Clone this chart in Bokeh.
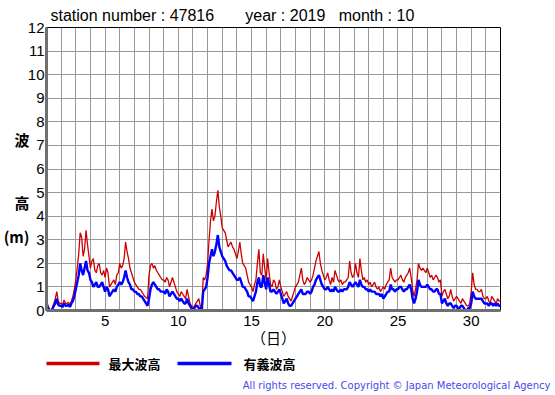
import numpy as np
from bokeh.plotting import figure
from bokeh.layouts import column
from bokeh.models import (FixedTicker, SingleIntervalTicker, ColumnDataSource, Title,
                          LinearAxis, Label, Range1d)
from bokeh.embed import file_html
from bokeh.resources import INLINE

# ---- data (wave height, m) : 10 readings per day, day 1.0 .. 32.0 ----
max_wave = [
    0.4,0.2,0.05,0.0,0.1,0.3,0.5,0.8,0.4,0.3,        # day 1
    0.3,0.25,0.45,0.3,0.3,0.35,0.25,0.4,0.6,0.9,     # day 2
    1.3,1.8,2.4,3.3,3.1,2.3,2.6,3.4,2.8,2.3,         # day 3
    1.8,2.1,2.2,1.7,1.6,1.9,2.0,1.6,1.5,1.7,         # day 4
    1.4,1.8,1.6,1.0,1.1,1.2,1.3,1.1,1.5,1.6,         # day 5
    2.0,1.8,1.9,2.2,2.9,2.5,2.2,1.8,1.6,1.4,         # day 6
    1.2,1.1,1.0,0.9,0.9,0.8,0.7,0.6,0.55,0.5,        # day 7
    1.5,1.9,2.0,1.8,1.9,1.7,1.6,1.5,1.4,1.3,         # day 8
    1.3,1.2,1.4,1.3,1.0,1.2,1.4,1.2,1.0,0.8,         # day 9
    0.7,0.6,0.8,0.7,0.6,0.5,0.9,0.6,0.3,0.2,         # day 10
    0.1,0.2,0.3,0.4,0.5,0.2,0.05,1.4,1.3,1.5,        # day 11
    2.0,3.0,3.8,4.3,3.8,4.0,4.6,5.1,4.4,4.0,         # day 12
    3.5,3.4,3.3,3.0,2.7,2.8,2.9,2.7,2.6,2.4,         # day 13
    2.2,2.5,2.9,2.4,2.0,1.9,1.8,1.5,1.2,1.1,         # day 14
    1.0,0.8,1.1,1.3,2.0,2.6,1.6,1.5,2.4,1.8,         # day 15
    1.3,2.2,1.6,1.1,1.0,1.3,1.2,0.9,1.0,1.3,         # day 16
    1.0,0.8,0.6,0.7,0.8,0.6,0.5,0.4,0.6,0.8,         # day 17
    1.0,1.1,1.2,1.5,1.8,1.3,1.1,1.2,1.4,1.3,         # day 18
    1.2,1.3,1.5,1.8,2.1,2.3,2.5,2.0,1.7,1.5,         # day 19
    1.3,1.4,1.6,1.3,1.1,1.4,1.2,1.7,1.5,1.3,         # day 20
    1.2,1.3,1.1,1.2,1.2,1.3,1.4,2.1,1.6,1.4,         # day 21
    1.5,2.0,1.6,1.4,2.2,1.7,1.3,1.4,1.2,1.3,         # day 22
    1.1,1.2,1.0,1.1,1.2,1.0,0.9,1.0,0.8,0.9,         # day 23
    1.0,0.9,1.1,1.2,1.3,1.8,1.4,1.3,1.2,1.3,         # day 24
    1.3,1.4,1.5,1.3,1.2,1.4,1.5,1.6,1.8,1.4,         # day 25
    0.9,0.6,0.9,1.3,2.0,1.8,1.7,1.8,1.7,1.6,         # day 26
    1.8,1.6,1.4,1.5,1.3,1.4,1.5,1.4,1.2,1.3,         # day 27
    0.6,0.8,0.9,0.7,0.5,0.6,0.9,0.6,0.4,0.5,         # day 28
    0.6,0.5,0.4,0.3,0.5,0.4,0.3,0.2,0.2,0.3,         # day 29
    0.8,1.6,1.1,0.9,0.9,0.8,0.8,0.9,0.6,0.5,         # day 30
    0.5,0.6,0.4,0.3,0.6,0.5,0.4,0.3,0.5,0.4,         # day 31
    0.4,
]
sig_wave = [
    0.3,0.1,0.0,0.0,0.05,0.2,0.3,0.5,0.25,0.2,
    0.2,0.15,0.3,0.2,0.2,0.25,0.15,0.3,0.4,0.6,
    0.9,1.2,1.5,2.0,1.7,1.5,1.8,2.1,1.7,1.6,
    1.3,1.2,1.0,1.1,1.2,1.0,1.0,1.1,1.2,1.0,
    0.8,1.0,0.9,0.6,0.7,0.8,0.9,0.8,1.0,1.1,
    1.2,1.1,1.2,1.4,1.7,1.4,1.2,1.1,0.9,0.9,
    0.8,0.8,0.7,0.7,0.6,0.6,0.5,0.4,0.3,0.2,
    0.5,0.9,1.1,1.2,1.1,1.0,0.9,0.9,0.8,0.8,
    0.8,0.7,0.9,0.8,0.6,0.7,0.8,0.7,0.6,0.5,
    0.5,0.4,0.5,0.4,0.3,0.3,0.5,0.3,0.2,0.1,
    0.0,0.1,0.2,0.2,0.1,0.1,0.0,0.8,0.9,1.0,
    1.4,2.0,2.3,2.6,2.3,2.5,2.8,3.2,2.7,2.5,
    2.3,2.2,2.1,1.9,1.8,1.7,1.7,1.6,1.5,1.4,
    1.3,1.3,1.4,1.2,1.0,1.0,0.9,0.8,0.6,0.6,
    0.5,0.4,0.6,0.8,1.2,1.4,1.0,1.0,1.5,1.2,
    0.9,1.4,1.1,0.8,0.8,0.9,0.8,0.7,0.8,0.9,
    0.7,0.5,0.3,0.4,0.5,0.3,0.2,0.2,0.3,0.4,
    0.5,0.6,0.7,0.8,0.9,0.7,0.7,0.7,0.8,0.8,
    0.7,0.8,1.0,1.1,1.3,1.4,1.5,1.3,1.1,1.0,
    0.9,0.9,1.0,0.9,0.8,0.9,0.8,1.0,0.9,0.8,
    0.8,0.9,0.8,0.9,0.9,0.9,1.0,1.2,1.1,1.0,
    1.1,1.2,1.1,1.0,1.3,1.1,1.0,1.0,0.9,0.9,
    0.8,0.9,0.8,0.8,0.8,0.7,0.7,0.7,0.6,0.7,
    0.5,0.6,0.7,0.8,0.8,1.1,0.9,0.9,0.8,0.9,
    0.9,1.0,1.0,0.9,0.8,0.9,0.9,1.0,1.1,0.9,
    0.5,0.3,0.5,0.8,1.3,1.1,1.0,1.0,1.0,1.0,
    1.1,1.0,0.9,0.9,0.8,0.8,0.9,0.9,0.7,0.7,
    0.3,0.4,0.5,0.3,0.2,0.3,0.3,0.2,0.1,0.2,
    0.2,0.1,0.1,0.2,0.2,0.1,0.0,0.0,0.1,0.1,
    0.3,0.8,0.6,0.5,0.5,0.5,0.5,0.5,0.4,0.3,
    0.3,0.3,0.2,0.3,0.3,0.2,0.3,0.2,0.3,0.2,
    0.2,
]
days = 1 + np.arange(len(max_wave)) / 10.0

x_tick_labels = [5, 10, 15, 20, 25, 30]
y_ticks = list(range(0, 13))
NB = "\u00a0"
header_text = "station number : 47816" + NB * 7 + "year : 2019" + NB * 3 + "month : 10"
legend_labels = ["最大波高", "有義波高"]
# vertical y label: characters and the heights (m) at which they stand
y_label_chars = ["波", "高", "(m)"]
y_label_pos = [7.24, 4.58, 3.13]
x_label = "（日）"
copyright_text = "All rights reserved. Copyright © Japan Meteorological Agency"

src = ColumnDataSource(dict(day=days, hmax=max_wave, hsig=sig_wave))

p = figure(frame_width=454, frame_height=283, x_range=(1, 32), y_range=(0, 12),
           output_backend="svg", toolbar_location=None, title=None,
           min_border_left=46, min_border_right=55, min_border_top=27, min_border_bottom=44)
p.background_fill_color = "white"
p.border_fill_color = "white"
p.outline_line_color = "black"
p.outline_line_width = 1

# grid
p.xgrid.ticker = SingleIntervalTicker(interval=1)
p.ygrid.ticker = SingleIntervalTicker(interval=1)
for g in (p.xgrid, p.ygrid):
    g.grid_line_color = "#999999"
    g.grid_line_width = 1

# axes
p.xaxis.ticker = FixedTicker(ticks=x_tick_labels)
p.yaxis.ticker = FixedTicker(ticks=y_ticks)
for ax in (p.xaxis, p.yaxis):
    ax.axis_line_color = "#707070"
    ax.axis_line_width = 3
    ax.major_tick_line_color = None
    ax.minor_tick_line_color = None
    ax.major_tick_out = 0
    ax.major_tick_in = 0
    ax.minor_tick_out = 0
    ax.major_label_text_font = "Liberation Sans"
    ax.major_label_text_font_size = "15px"
    ax.major_label_text_color = "black"
p.yaxis.major_label_standoff = 2
p.xaxis.major_label_standoff = 5

p.xaxis.axis_label = x_label
p.xaxis.axis_label_text_font = "Noto Sans CJK JP"
p.xaxis.axis_label_text_font_style = "normal"
p.xaxis.axis_label_text_font_size = "15px"
p.xaxis.axis_label_text_color = "black"
p.xaxis.axis_label_standoff = -2

# outer left axis carrying the stacked y label
ylab_axis = LinearAxis(ticker=FixedTicker(ticks=y_label_pos),
                       major_label_overrides=dict(zip(y_label_pos, y_label_chars)))
ylab_axis.axis_line_color = None
ylab_axis.major_tick_line_color = None
ylab_axis.minor_tick_line_color = None
ylab_axis.major_tick_out = 0
ylab_axis.major_tick_in = 0
ylab_axis.minor_tick_out = 0
ylab_axis.major_label_standoff = -5
ylab_axis.major_label_text_font = "Noto Sans CJK JP"
ylab_axis.major_label_text_font_style = "bold"
ylab_axis.major_label_text_font_size = "15px"
ylab_axis.major_label_text_color = "black"
p.add_layout(ylab_axis, "left")

# header
p.add_layout(Title(text=header_text, align="left", offset=4, text_font="Liberation Sans",
                   text_font_size="16px", text_font_style="normal", text_color="black",
                   standoff=8), "above")

# data lines
p.line("day", "hmax", source=src, line_color="#cc0000", line_width=1.3)
p.line("day", "hsig", source=src, line_color="#0000ff", line_width=2.4)

# ---- legend strip (second figure whose frame is in page-pixel coordinates) ----
q = figure(frame_width=454, frame_height=22, x_range=Range1d(46, 500),
           y_range=Range1d(376, 354), output_backend="svg", toolbar_location=None,
           title=None, x_axis_type=None, y_axis_type=None,
           min_border_left=46, min_border_right=55, min_border_top=0, min_border_bottom=19)
q.grid.visible = False
q.outline_line_color = None
q.background_fill_color = "white"
q.border_fill_color = "white"

key_x0 = [43, 177]
key_x1 = [99, 231]
key_y = [363, 363]
key_colors = ["#cc0000", "#0000ff"]
q.segment(x0=key_x0, y0=key_y, x1=key_x1, y1=key_y, line_color=key_colors, line_width=3.5)
for lx, txt in zip([108, 243], legend_labels):
    q.add_layout(Label(x=lx, y=363, text=txt, text_font="Noto Sans CJK JP",
                       text_font_style="bold", text_font_size="13px", text_color="black",
                       text_baseline="middle", text_align="left"))

q.add_layout(Title(text=copyright_text, align="right", offset=-50, text_font="DejaVu Sans",
                   text_font_size="10px", text_font_style="normal", text_color="#4848ee",
                   standoff=2), "below")

layout = column(p, q, spacing=0)
open("out.html", "w").write(file_html(layout, INLINE))
